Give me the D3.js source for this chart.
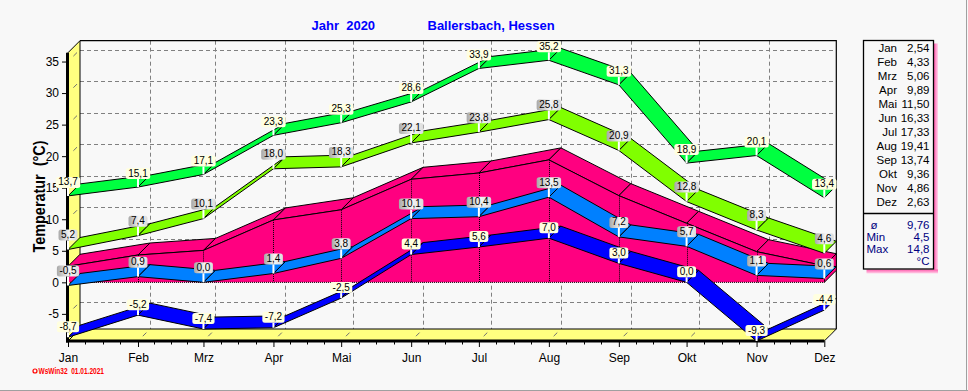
<!DOCTYPE html>
<html><head><meta charset="utf-8">
<script src="https://cdn.jsdelivr.net/npm/d3@7"></script>
<style>
html,body{margin:0;padding:0;background:#f8f8f8;}
svg{display:block;font-family:"Liberation Sans",Arial,sans-serif;}
</style></head><body>
<svg id="c" width="968" height="391"></svg>
<script>
// ---------- data ----------
const months   = ["Jan","Feb","Mrz","Apr","Mai","Jun","Jul","Aug","Sep","Okt","Nov","Dez"];
const absMax   = [13.7,15.1,17.1,23.3,25.3,28.6,33.9,35.2,31.3,18.9,20.1,13.4];
const meanMax  = [5.2,7.4,10.1,18.0,18.3,22.1,23.8,25.8,20.9,12.8,8.3,4.6];
const meanTemp = [2.54,4.33,5.06,9.89,11.50,16.33,17.33,19.41,13.74,9.36,4.86,2.63];
const meanMin  = [-0.5,0.9,0.0,1.4,3.8,10.1,10.4,13.5,7.2,5.7,1.1,0.6];
const absMin   = [-8.7,-5.2,-7.4,-7.2,-2.5,4.4,5.6,7.0,3.0,0.0,-9.3,-4.4];
const yTicks   = [-5,0,5,10,15,20,25,30,35];
const summaryLabels = ["ø","Min","Max"];
const summaryValues = ["9,76","4,5","14,8"];
const titleLeft = "Jahr  2020";
const titleRight = "Ballersbach, Hessen";
const yLabel = "Temperatur  (°C)";
const credit = "WsWin32  01.01.2021";

// ---------- setup ----------
const svg = d3.select("#c");
const FONT = '"Liberation Sans",Arial,sans-serif';
const DX = 12, DY = -12;
const dates = months.map((m,i)=>new Date(2020,i,1));
const x = d3.scaleTime().domain([dates[0], dates[11]]).range([68, 824.3]);
const y = d3.scaleLinear().domain([-9.3, 36.4]).range([341, 52.7]);
const X0 = x.range()[0], X1 = x.range()[1];
const YB = y.range()[0], YT = y.range()[1];
const fmt = v => v.toFixed(1).replace(".", ",");

const defs = svg.append("defs");
const gGray = defs.append("linearGradient").attr("id","gGray");
gGray.append("stop").attr("offset","0%").attr("stop-color","#a8a8a8");
gGray.append("stop").attr("offset","55%").attr("stop-color","#f4f4f4");
gGray.append("stop").attr("offset","100%").attr("stop-color","#dcdcdc");
const gPinkR = defs.append("linearGradient").attr("id","gPinkR");
gPinkR.append("stop").attr("offset","0%").attr("stop-color","#ff5aac");
gPinkR.append("stop").attr("offset","100%").attr("stop-color","#ffd4ea");
const gPinkB = defs.append("linearGradient").attr("id","gPinkB").attr("x1",0).attr("y1",0).attr("x2",0).attr("y2",1);
gPinkB.append("stop").attr("offset","0%").attr("stop-color","#ff5aac");
gPinkB.append("stop").attr("offset","100%").attr("stop-color","#ffd4ea");

// background & frame
svg.append("rect").attr("width",968).attr("height",391).attr("fill","#f8f8f8");
svg.append("line").attr("x1",0).attr("x2",968).attr("y1",390.5).attr("y2",390.5).attr("stroke","#a0a0a0");
svg.append("line").attr("x1",966.5).attr("x2",966.5).attr("y1",0).attr("y2",391).attr("stroke","#a0a0a0");

// ---------- back plane grid ----------
const grid = svg.append("g").attr("stroke","#808080").attr("stroke-dasharray","4,3").attr("stroke-width",1);
yTicks.forEach(t=>{
  grid.append("line").attr("x1",X0+DX).attr("x2",X1+DX)
    .attr("y1",Math.round(y(t)+DY)+0.5).attr("y2",Math.round(y(t)+DY)+0.5);
});
dates.slice(1,11).forEach(d=>{
  grid.append("line").attr("x1",Math.round(x(d)+DX)+0.5).attr("x2",Math.round(x(d)+DX)+0.5)
    .attr("y1",YT+DY).attr("y2",YB+DY);
});
// back border
svg.append("path").attr("d",`M${X0+DX},${YT+DY}H${X1+DX}V${YB+DY}`).attr("fill","none").attr("stroke","#000").attr("stroke-width",1.2);

// left wall & floor
svg.append("path").attr("d",`M${X0},${YT}L${X0+DX},${YT+DY}L${X0+DX},${YB+DY}L${X0},${YB}Z`)
  .attr("fill","#ffff80").attr("stroke","#000").attr("stroke-width",1);
svg.append("path").attr("d",`M${X0},${YB}L${X0+DX},${YB+DY}L${X1+DX},${YB+DY}L${X1},${YB}Z`)
  .attr("fill","#ffff80").attr("stroke","#000").attr("stroke-width",1);
const dash = svg.append("g").attr("stroke","#707070").attr("stroke-width",1);
yTicks.forEach(t=>{
  dash.append("line").attr("x1",X0+DX*0.45).attr("y1",y(t)+DY*0.45).attr("x2",X0+DX*0.75).attr("y2",y(t)+DY*0.75);
});
dates.forEach(d=>{
  dash.append("line").attr("x1",x(d)+DX*0.4).attr("y1",YB+DY*0.4).attr("x2",x(d)+DX*0.7).attr("y2",YB+DY*0.7);
});

// ---------- mean temperature 3D area ----------
const area = svg.append("g");
const pf = meanTemp.map((v,i)=>[x(dates[i]), y(v)]);
const y0 = y(0);
for(let i=0;i<pf.length-1;i++){
  const a=pf[i], b=pf[i+1];
  area.append("path").attr("d",`M${a[0]},${a[1]}L${b[0]},${b[1]}L${b[0]+DX},${b[1]+DY}L${a[0]+DX},${a[1]+DY}Z`)
    .attr("fill","#ff0080").attr("stroke","#000").attr("stroke-width",1).attr("stroke-linejoin","round");
}
const last = pf[pf.length-1];
area.append("path").attr("d",`M${last[0]},${last[1]}L${last[0]+DX},${last[1]+DY}L${last[0]+DX},${y0+DY}L${last[0]},${y0}Z`)
  .attr("fill","#ff0080").attr("stroke","#000").attr("stroke-width",1);
area.append("path").attr("d", d3.line()(pf.concat([[last[0],y0],[pf[0][0],y0]]))+"Z").attr("fill","#ff0080");
area.append("path").attr("d", d3.line()(pf)).attr("fill","none").attr("stroke","#000").attr("stroke-width",1);
area.append("line").attr("x1",pf[0][0]).attr("x2",last[0]).attr("y1",y0).attr("y2",y0)
  .attr("stroke","#000").attr("stroke-dasharray","1,1");
pf.forEach(p=>{
  area.append("line").attr("x1",Math.round(p[0])+0.5).attr("x2",Math.round(p[0])+0.5).attr("y1",p[1]).attr("y2",y0)
    .attr("stroke","#000").attr("stroke-dasharray","1,1");
});

// ---------- ribbons ----------
const seriesList = [
  {vals:absMin,  color:"#0000ff", label:"yellow", gap:5},
  {vals:meanMin, color:"#0080ff", label:"gray",   gap:9},
  {vals:meanMax, color:"#80ff00", label:"gray",   gap:9},
  {vals:absMax,  color:"#00ff40", label:"yellow", gap:8}
];
seriesList.forEach(s=>{
  const g = svg.append("g");
  const pts = s.vals.map((v,i)=>[x(dates[i]), y(v)]);
  for(let i=0;i<pts.length-1;i++){
    const a=pts[i], b=pts[i+1];
    g.append("path").attr("d",`M${a[0]},${a[1]}L${b[0]},${b[1]}L${b[0]+DX},${b[1]+DY}L${a[0]+DX},${a[1]+DY}Z`)
      .attr("fill",s.color).attr("stroke","#000").attr("stroke-width",1).attr("stroke-linejoin","round");
  }
});

// ---------- front axes ----------
svg.append("line").attr("x1",X0-0.5).attr("x2",X0-0.5).attr("y1",YT).attr("y2",YB+1.5).attr("stroke","#000").attr("stroke-width",3);
svg.append("line").attr("x1",X0-2).attr("x2",X1).attr("y1",YB).attr("y2",YB).attr("stroke","#000").attr("stroke-width",3);

const yAxis = svg.append("g").attr("transform",`translate(${X0-2},0)`)
  .call(d3.axisLeft(y).tickValues(yTicks).tickSize(4).tickPadding(3).tickFormat(d=>String(d)));
yAxis.select(".domain").remove();
yAxis.selectAll("text").attr("font-size",12).attr("font-family",FONT).attr("fill","#000");

const xAxis = svg.append("g").attr("transform",`translate(0,${YB})`)
  .call(d3.axisBottom(x).tickValues(dates).tickSize(6).tickPadding(6).tickFormat((d,i)=>months[i]));
xAxis.select(".domain").remove();
xAxis.selectAll("text").attr("font-size",12).attr("font-family",FONT).attr("fill","#000");
const minor = svg.append("g").attr("stroke","#000");
for(let i=0;i<dates.length-1;i++){
  const a=x(dates[i]), b=x(dates[i+1]);
  for(let k=1;k<4;k++){
    const xx = Math.round(a+(b-a)*k/4)+0.5;
    minor.append("line").attr("x1",xx).attr("x2",xx).attr("y1",YB).attr("y2",YB+3.5);
  }
}

// ---------- value labels ----------
const lab = svg.append("g").attr("font-family",FONT).attr("font-size",10);
seriesList.forEach(s=>{
  s.vals.forEach((v,i)=>{
    const px = x(dates[i]), py = y(v);
    const t = lab.append("text").text(fmt(v)).attr("text-anchor","middle").attr("fill","#000");
    const w = t.node().getComputedTextLength()+5, h = 11;
    const top = py - s.gap - h;
    lab.insert("rect","text:last-child").attr("x",px-w/2).attr("y",top).attr("width",w).attr("height",h).attr("rx",2.5)
      .attr("fill", s.label==="gray" ? "url(#gGray)" : "#ffffe0");
    lab.insert("line","text:last-child").attr("x1",px).attr("x2",px).attr("y1",top+h).attr("y2",py)
      .attr("stroke","#fff").attr("stroke-width",2);
    t.attr("x",px).attr("y",top+8.5);
  });
});

// ---------- titles ----------
svg.append("text").attr("x",311.5).attr("y",29.5).text(titleLeft).attr("xml:space","preserve").style("white-space","pre")
  .attr("font-size",13).attr("font-weight","bold").attr("fill","#0000ff");
svg.append("text").attr("x",427.5).attr("y",29.5).text(titleRight)
  .attr("font-size",13).attr("font-weight","bold").attr("fill","#0000ff");
svg.append("text").attr("transform","translate(45,196.5) rotate(-90)").attr("text-anchor","middle")
  .style("white-space","pre").text(yLabel).attr("font-size",16).attr("font-weight","bold")
  .attr("textLength",112).attr("lengthAdjust","spacingAndGlyphs").attr("fill","#000");
svg.append("circle").attr("cx",35).attr("cy",371).attr("r",2).attr("fill","none").attr("stroke","#ff0000").attr("stroke-width",1.2);
svg.append("text").attr("x",38.5).attr("y",374).style("white-space","pre").text(credit)
  .attr("font-size",8.5).attr("font-weight","bold").attr("fill","#ff0000")
  .attr("textLength",65.5).attr("lengthAdjust","spacingAndGlyphs");

// ---------- legend ----------
const L = {x:863.5, y:40.5, w:70, h:228.5};
svg.append("rect").attr("x",L.x+L.w+0.5).attr("y",L.y+3).attr("width",4).attr("height",L.h+1).attr("fill","url(#gPinkR)");
svg.append("rect").attr("x",L.x+3).attr("y",L.y+L.h+0.5).attr("width",L.w+1.5).attr("height",4).attr("fill","url(#gPinkB)");
svg.append("rect").attr("x",L.x).attr("y",L.y).attr("width",L.w).attr("height",L.h)
  .attr("fill","#f8f8f8").attr("stroke","#000").attr("stroke-width",1.3);
const lg = svg.append("g").attr("font-size",11.5).attr("font-family",FONT);
months.forEach((m,i)=>{
  lg.append("text").attr("x",897).attr("y",52+14*i).attr("text-anchor","end").text(m);
  lg.append("text").attr("x",929.5).attr("y",52+14*i).attr("text-anchor","end").text(meanTemp[i].toFixed(2).replace(".",","));
});
svg.append("line").attr("x1",L.x).attr("x2",L.x+L.w).attr("y1",213.5).attr("y2",213.5).attr("stroke","#000").attr("stroke-width",1.3);
const sg = svg.append("g").attr("font-size",11.5).attr("font-family",FONT).attr("fill","#000080");
summaryLabels.forEach((l,i)=>{
  sg.append("text").attr("x", i===0 ? 870.5 : 866.5).attr("y",229+12*i).text(l);
  sg.append("text").attr("x",929.5).attr("y",229+12*i).attr("text-anchor","end").text(summaryValues[i]);
});
sg.append("text").attr("x",929.5).attr("y",265).attr("text-anchor","end").text("°C");
</script>
</body></html>
